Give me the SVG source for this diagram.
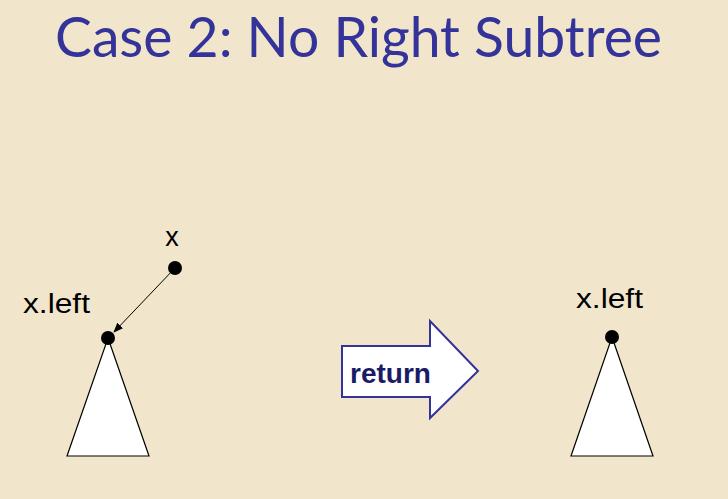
<svg xmlns="http://www.w3.org/2000/svg" width="728" height="499" viewBox="0 0 728 499">
<defs>
<style>
.lbl{font-family:"Liberation Sans",Arial,sans-serif;font-size:27px;fill:#000}
.tri{fill:#fff;stroke:#000;stroke-width:1.2}
.dot{fill:#000}
</style>
<marker id="ah" markerWidth="10" markerHeight="8" refX="9" refY="4" orient="auto" markerUnits="userSpaceOnUse">
<path d="M0,0 L10,4 L0,8 Z" fill="#000"/>
</marker>
</defs>
<rect width="728" height="499" fill="#F1E6CC"/>
<text x="55" y="57" font-family="Lato,'Open Sans',sans-serif" font-size="57" fill="#333399" textLength="607" lengthAdjust="spacingAndGlyphs">Case 2: No Right Subtree</text>
<g id="connectors">
<line x1="175" y1="268" x2="114" y2="332" stroke="#000" stroke-width="1" marker-end="url(#ah)"/>
</g>
<g id="x">
<text class="lbl" x="172" y="246" text-anchor="middle">x</text>
<circle class="dot" cx="175" cy="268" r="7"/>
</g>
<g id="xleft1">
<text class="lbl" x="23" y="313" textLength="67" lengthAdjust="spacingAndGlyphs">x.left</text>
<polygon class="tri" points="108,338 149,456 67,456"/>
<circle class="dot" cx="108" cy="338" r="7"/>
</g>
<g id="return">
<polygon points="342,346 430,346 430,321 478,371 430,418 430,397 342,397" fill="#fff" stroke="#333399" stroke-width="2"/>
<text x="350" y="383" font-family="'Liberation Sans',Arial,sans-serif" font-size="28" font-weight="bold" fill="#1a1a66">return</text>
</g>
<g id="xleft2">
<text class="lbl" x="576" y="308" textLength="67" lengthAdjust="spacingAndGlyphs">x.left</text>
<polygon class="tri" points="612,337 653,456 571,456"/>
<circle class="dot" cx="612" cy="337" r="7"/>
</g>
</svg>
